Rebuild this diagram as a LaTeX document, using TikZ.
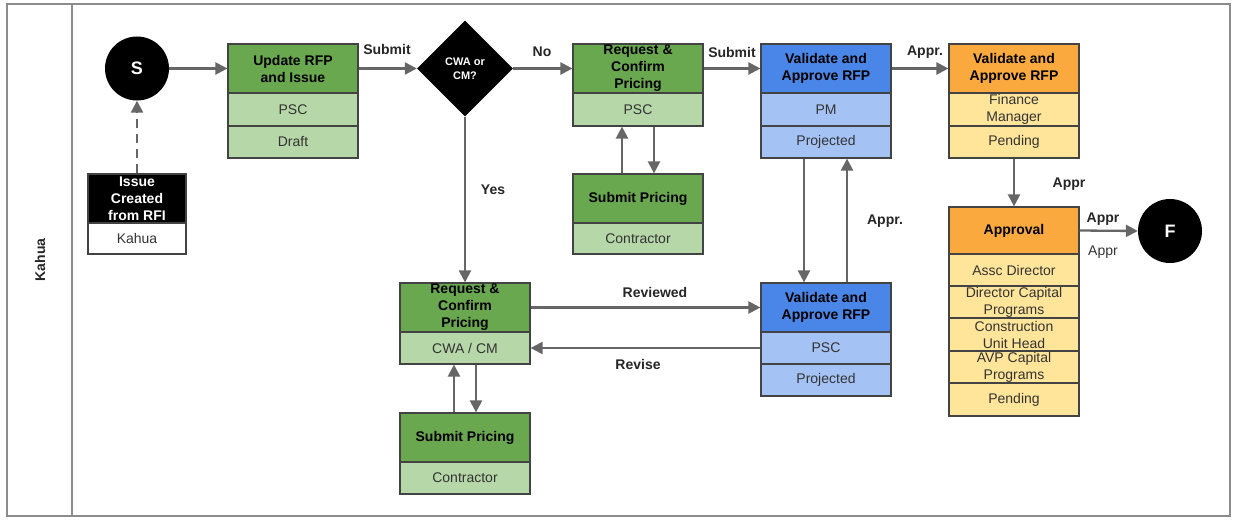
\documentclass[tikz,border=0pt]{standalone}
\usepackage{fontspec}
\setmainfont{Liberation Sans}
\usetikzlibrary{shapes.geometric,arrows.meta}
\definecolor{gH}{HTML}{6AA84F}
\definecolor{gL}{HTML}{B6D7A8}
\definecolor{bH}{HTML}{4A86E8}
\definecolor{bL}{HTML}{A4C2F4}
\definecolor{oH}{HTML}{FAA93F}
\definecolor{oL}{HTML}{FFE599}
\definecolor{bd}{HTML}{434343}
\definecolor{arrC}{HTML}{666666}
\definecolor{txt}{HTML}{333333}
\definecolor{laneC}{HTML}{8C8C8C}
\newcommand\boxcell[7]{\node[#2, minimum width={#5-#3}, minimum height={#6-#4}] (#1) at ({(#3+#5)/2},{(#4+#6)/2}) {#7};}
\begin{document}
\begin{tikzpicture}[x=1pt,y=-1pt,
  cellbase/.style={draw=bd, line width=1.2pt, inner sep=1pt, align=center, text=txt, font=\fontsize{14}{17}\selectfont},
  hdrG/.style={cellbase, fill=gH, text=black, font=\fontsize{14}{17}\selectfont\bfseries},
  rowG/.style={cellbase, fill=gL},
  hdrB/.style={cellbase, fill=bH, text=black, font=\fontsize{14}{17}\selectfont\bfseries},
  rowB/.style={cellbase, fill=bL},
  hdrO/.style={cellbase, fill=oH, text=black, font=\fontsize{14}{17}\selectfont\bfseries},
  rowO/.style={cellbase, fill=oL},
  hdrK/.style={cellbase, fill=black, text=white, font=\fontsize{14}{17}\selectfont\bfseries},
  rowW/.style={cellbase, fill=white},
  terminal/.style={circle, fill=black, minimum size=64pt, inner sep=0pt, text=white, font=\fontsize{18}{20}\selectfont\bfseries},
  decision/.style={diamond, fill=black, minimum width=96pt, minimum height=96pt, inner sep=0pt, text=white, align=center, font=\fontsize{11}{14}\selectfont\bfseries},
  flow/.style={draw=arrC, line width=2.3pt, -{Triangle[length=12pt,width=12pt]}},
  lbl/.style={inner sep=0pt, text=black!85, font=\fontsize{14}{17}\selectfont\bfseries},
  lblR/.style={inner sep=0pt, text=txt, font=\fontsize{14}{17}\selectfont},
  lane/.style={draw=laneC, line width=1.4pt}
]
\useasboundingbox (0,0) rectangle (1233,519);
\fill[white] (0,0) rectangle (1233,519);
\draw[lane] (7,4) rectangle (1230,516);
\draw[lane] (72,4) -- (72,516);
\node[rotate=90, lbl] (laneT) at (40,260) {Kahua};

% start
\node[terminal] (S) at (137,68.5) {S};
\boxcell{issH}{hdrK}{88}{174}{186}{223}{Issue\\Created\\from RFI}
\boxcell{issR}{rowW}{88}{223}{186}{254}{Kahua}

% update RFP
\boxcell{updH}{hdrG}{228}{44}{358}{93}{Update RFP\\and Issue}
\boxcell{updP}{rowG}{228}{93}{358}{126}{PSC}
\boxcell{updD}{rowG}{228}{126}{358}{158}{Draft}

\node[decision] (dia) at (465,68.5) {CWA or\\CM?};

% request top
\boxcell{rqTH}{hdrG}{573}{44}{703}{93}{Request \&\\Confirm\\Pricing}
\boxcell{rqTP}{rowG}{573}{93}{703}{126}{PSC}
\boxcell{sbTH}{hdrG}{573}{174}{703}{223}{Submit Pricing}
\boxcell{sbTC}{rowG}{573}{223}{703}{254}{Contractor}

% validate top
\boxcell{vaTH}{hdrB}{761}{44}{891}{93}{Validate and\\Approve RFP}
\boxcell{vaTP}{rowB}{761}{93}{891}{126}{PM}
\boxcell{vaTJ}{rowB}{761}{126}{891}{158}{Projected}

% orange top
\boxcell{orTH}{hdrO}{949}{44}{1079}{93}{Validate and\\Approve RFP}
\boxcell{orTF}{rowO}{949}{93}{1079}{126}{Finance\\Manager}
\boxcell{orTP}{rowO}{949}{126}{1079}{158}{Pending}

% approval
\boxcell{apH}{hdrO}{949}{207}{1079}{254}{Approval}
\boxcell{apA}{rowO}{949}{254}{1079}{286}{Assc Director}
\boxcell{apD}{rowO}{949}{286}{1079}{318}{Director Capital\\Programs}
\boxcell{apC}{rowO}{949}{318}{1079}{351}{Construction\\Unit Head}
\boxcell{apV}{rowO}{949}{351}{1079}{383}{AVP Capital\\Programs}
\boxcell{apP}{rowO}{949}{383}{1079}{416}{Pending}

\node[terminal] (F) at (1170,231) {F};

% request bottom
\boxcell{rqBH}{hdrG}{400}{283}{530}{332}{Request \&\\Confirm\\Pricing}
\boxcell{rqBC}{rowG}{400}{332}{530}{364}{CWA / CM}
\boxcell{sbBH}{hdrG}{400}{413}{530}{462}{Submit Pricing}
\boxcell{sbBC}{rowG}{400}{462}{530}{494}{Contractor}

% validate bottom
\boxcell{vaBH}{hdrB}{761}{283}{891}{332}{Validate and\\Approve RFP}
\boxcell{vaBP}{rowB}{761}{332}{891}{364}{PSC}
\boxcell{vaBJ}{rowB}{761}{364}{891}{396}{Projected}

% connectors
\draw[flow, dash pattern=on 9pt off 6pt] (issH.north) -- (S.south);
\draw[flow] (S.east) -- (S.east -| updH.west);
\draw[flow] (updH.east) -- (dia.west);
\draw[flow] (dia.east) -- (rqTH.west);
\draw[flow] (dia.south) -- (dia.south |- rqBH.north);
\draw[flow] ([xshift=-16pt]sbTH.north) -- ([xshift=-16pt]rqTP.south);
\draw[flow] ([xshift=16pt]rqTP.south) -- ([xshift=16pt]sbTH.north);
\draw[flow] (rqTH.east) -- (vaTH.west);
\draw[flow] (vaTH.east) -- (orTH.west);
\draw[flow] ([xshift=-22pt]vaTJ.south) -- ([xshift=-22pt]vaBH.north);
\draw[flow] ([xshift=21pt]vaBH.north) -- ([xshift=21pt]vaTJ.south);
\draw[flow] (orTP.south) -- (apH.north);
\draw[flow] (apH.east) -- (F.west);
\draw[flow] ([xshift=-11pt]sbBH.north) -- ([xshift=-11pt]rqBC.south);
\draw[flow] ([xshift=11pt]rqBC.south) -- ([xshift=11pt]sbBH.north);
\draw[flow] (rqBH.east) -- (vaBH.west);
\draw[flow] (vaBP.west) -- (rqBC.east);

% labels
\node[lbl] (l1) at (387,49) {Submit};
\node[lbl] (l2) at (542,52) {No};
\node[lbl] (l3) at (493,190) {Yes};
\node[lbl] (l4) at (732,52) {Submit};
\node[lbl] (l5) at (925,52) {Appr.};
\node[lbl] (l6) at (885,221) {Appr.};
\node[lbl] (l7) at (1069,184) {Appr};
\node[lbl] (l8) at (1103,219) {Appr};
\node[lblR] (l9) at (1103,252) {Appr};
\node[lbl] (l10) at (655,292) {Reviewed};
\node[lbl] (l11) at (638,364) {Revise};
\end{tikzpicture}
\end{document}
